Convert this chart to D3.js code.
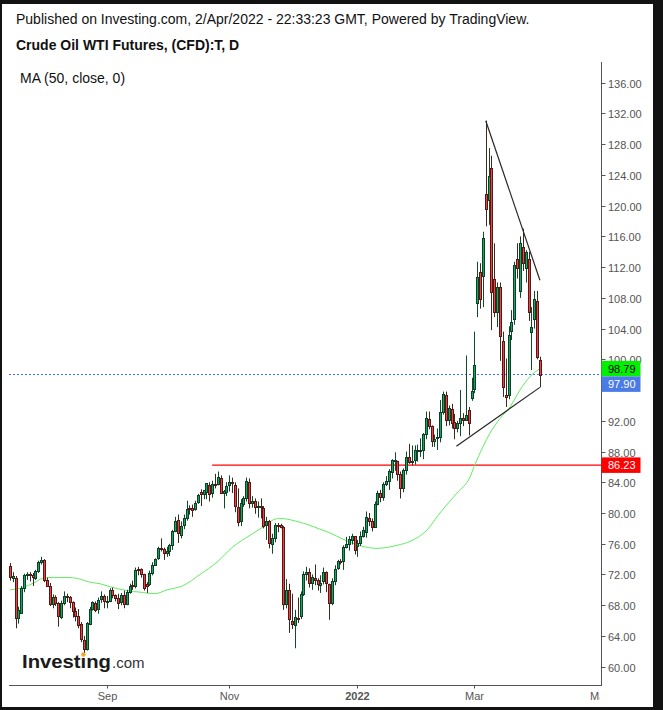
<!DOCTYPE html>
<html><head><meta charset="utf-8">
<script src="https://cdn.jsdelivr.net/npm/d3@7/dist/d3.min.js"></script>
<style>
html,body{margin:0;padding:0;background:#121212;}
svg{display:block;}
text{font-family:"Liberation Sans",Arial,sans-serif;}
</style></head><body>
<svg id="c" width="663" height="710"></svg>
<script>
// ---- data (daily bars, every weekday from 15 Jul 2021 to 1 Apr 2022) ----
const opens = [73.1,71.6,71.6,66.4,67.0,70.3,71.9,72.0,71.9,71.6,
72.4,73.6,73.9,71.3,70.5,68.2,69.1,68.3,66.5,68.3,
69.2,69.1,68.4,67.3,66.6,65.5,63.5,62.3,65.6,67.5,
68.3,67.5,68.8,69.2,68.5,68.6,70.0,69.3,68.9,68.4,
69.3,68.1,69.7,70.6,70.5,72.7,72.7,72.0,70.8,70.8,
72.2,73.3,74.1,75.5,75.3,74.8,75.1,75.9,77.7,79.1,
77.2,78.4,79.4,80.7,80.6,80.5,81.4,82.7,82.5,82.8,
83.7,82.6,83.8,83.8,84.6,82.6,82.8,83.6,84.0,83.6,
80.8,79.0,81.2,81.9,84.0,81.3,81.6,80.8,80.9,80.6,
78.4,78.9,76.0,76.8,78.5,78.4,78.2,68.2,70.0,66.0,
65.4,66.3,66.6,69.5,72.1,72.3,70.9,71.6,71.3,70.6,
71.1,72.3,70.7,68.3,71.1,72.8,73.8,73.7,75.6,76.0,
76.5,77.0,75.7,76.1,77.0,77.5,79.4,78.9,78.2,81.2,
82.6,82.1,83.8,84.2,85.3,86.9,86.8,85.1,83.2,85.6,
87.3,86.6,86.9,88.2,88.2,88.2,90.3,92.3,91.3,89.4,
89.7,89.9,93.1,95.4,92.1,93.6,91.8,91.1,91.7,92.4,
92.1,93.4,95.0,96.2,107.3,111.4,110.8,121.5,120.8,124.85,
110.5,106.1,109.45,102.4,95.35,95.4,103.7,105.2,113.0,108.9,
114.6,111.85,113.0,103.5,105.3,107.6,99.9];
const highs = [73.5,72.3,71.8,67.8,70.5,72.1,72.3,72.3,72.2,72.6,
73.8,74.3,74.0,71.6,70.9,69.4,69.3,68.4,68.6,69.8,
69.5,69.2,68.5,67.7,67.5,65.8,64.0,65.8,67.8,68.5,
68.5,69.0,69.8,69.4,69.2,70.2,70.3,69.4,69.5,69.6,
69.9,70.0,70.8,71.2,72.9,73.0,72.8,72.1,71.0,72.5,
73.6,74.1,75.6,76.7,75.5,75.6,76.0,77.8,79.5,79.8,
78.9,79.8,81.6,81.0,81.1,81.6,82.5,83.1,83.0,83.9,
84.0,84.2,85.1,85.4,84.9,83.0,84.0,84.9,84.6,84.0,
83.2,81.8,82.2,84.6,84.5,82.2,81.9,81.5,81.9,80.9,
79.5,79.1,77.3,78.7,78.7,78.6,78.3,71.4,70.8,69.5,
67.4,69.0,69.8,72.4,73.0,72.8,72.0,73.3,71.5,71.9,
72.9,72.4,70.8,71.5,73.2,73.9,74.0,75.8,76.9,77.0,
77.3,77.0,76.5,77.6,78.2,80.2,80.0,79.3,81.5,82.9,
83.0,84.0,84.8,85.7,87.0,87.9,86.8,85.4,85.8,88.0,
89.0,88.8,88.8,88.9,89.7,90.4,93.2,93.2,91.4,90.2,
91.0,94.7,95.8,95.8,94.0,94.2,92.9,92.0,96.0,93.0,
100.5,93.8,97.6,103.6,112.7,112.5,116.6,131.05,127.5,126.5,
115.1,110.0,110.0,103.6,100.1,104.3,106.4,112.7,115.1,116.0,
117.0,114.2,114.0,106.8,108.9,108.9,100.35];
const lows = [71.2,71.0,65.0,65.6,66.9,69.7,71.3,71.1,70.5,71.3,
72.2,73.3,71.0,70.4,67.9,67.6,67.9,65.2,66.2,68.0,
68.4,67.6,66.4,65.9,65.0,63.2,61.7,62.1,65.4,67.3,
67.1,66.9,68.3,67.6,67.6,68.4,68.9,68.5,67.5,68.0,
67.6,68.0,69.5,70.0,70.2,71.9,71.6,69.9,69.6,70.5,
71.9,73.1,73.9,75.0,73.9,74.3,74.4,75.2,77.5,76.1,
76.7,77.9,79.0,79.8,79.5,80.3,81.2,80.9,81.8,81.8,
81.5,82.0,83.2,83.6,82.5,80.6,82.2,82.8,82.6,80.1,
78.25,78.3,80.8,81.5,80.6,80.7,79.9,79.4,79.3,78.0,
76.5,75.4,74.7,76.2,77.5,78.0,67.4,67.6,64.4,64.9,
62.4,65.7,66.2,69.2,71.2,70.3,70.0,70.6,69.9,69.6,
70.7,69.7,66.1,68.0,70.6,72.6,73.3,72.6,75.4,75.1,
75.9,74.6,74.3,75.7,76.8,76.8,78.3,77.6,78.1,81.0,
81.4,81.6,83.5,83.0,84.5,85.5,84.2,81.9,82.7,85.0,
86.4,86.2,86.3,86.7,87.3,87.0,89.6,90.9,88.6,88.6,
88.2,89.2,92.8,91.3,91.4,91.0,89.6,90.5,90.0,91.3,
92.1,90.1,94.6,95.6,105.5,106.6,106.8,117.3,117.5,103.8,
105.5,104.2,99.8,95.1,93.8,94.8,102.5,104.5,110.5,108.0,
111.5,110.0,105.0,98.6,104.0,100.0,96.35];
const closes = [71.65,71.8,66.4,67.4,70.3,71.9,72.07,71.9,71.65,72.4,
73.6,73.95,71.26,70.56,68.15,69.09,68.28,66.6,68.29,69.25,
69.09,68.44,67.29,66.59,65.46,63.6,62.32,65.64,67.54,68.36,
67.42,68.74,69.21,68.5,68.59,69.99,69.29,68.9,68.35,69.3,
68.14,69.72,70.45,70.46,72.61,72.61,72.0,70.29,70.5,72.23,
73.3,73.98,75.45,75.29,74.83,75.03,75.88,77.62,78.93,77.43,
78.3,79.35,80.52,80.5,80.44,81.31,82.28,82.44,82.96,83.87,
82.5,83.76,83.76,84.65,82.66,82.81,83.57,84.05,83.91,80.86,
78.81,81.27,81.93,84.15,81.34,81.59,80.79,80.88,80.76,78.36,
79.01,76.1,76.75,78.5,78.39,78.2,68.15,69.95,66.18,65.57,
66.5,66.26,69.49,72.05,72.36,70.94,71.67,71.29,70.73,70.87,
72.38,70.86,68.23,71.12,72.76,73.79,73.6,75.57,75.98,76.56,
76.99,75.21,76.08,76.99,77.85,79.46,78.9,78.23,81.22,82.64,
82.12,83.82,84.2,85.43,86.96,86.9,85.14,83.31,85.6,87.35,
86.61,86.82,88.15,88.2,88.26,90.27,92.31,91.32,89.36,89.66,
89.88,93.1,95.46,92.07,93.66,91.76,91.07,91.7,92.35,92.1,
92.81,91.7,95.9,99.2,110.75,107.8,115.75,119.5,123.9,108.8,
106.1,109.45,103.1,96.4,95.1,103.15,104.8,112.3,111.85,115.1,
112.5,114.0,106.1,104.25,107.9,100.35,97.9];

// MA(50): bar position -> value
const maIdx = [0,3.6,8.1,11.6,14.1,21.1,24.6,28.1,31.6,35.2,41.1,45.7,50.9,55.2,60.8,66.7,72.7,78.3,84.3,88.9,92.4,94.8,97.3,100.8,105.3,108.8,112.4,116.9,122.9,128.8,135.9,140.4,146.4,150.9,156.9,161.5,163.2,166.0,168.5,172.0,175.5,179.0,182.5,186];
const maVal = [70.0,70.2,70.85,71.5,71.6,71.6,71.4,71.0,70.8,70.4,69.9,69.7,69.5,70.0,70.55,72.0,73.6,75.6,77.1,78.2,79.1,79.3,79.2,78.9,78.4,77.9,77.4,76.6,75.75,75.4,75.8,76.3,77.8,80.0,82.6,84.7,86.3,88.6,90.4,92.3,93.8,96.0,97.75,98.79];

const yTicks = [60,64,68,72,76,80,84,88,92,96,100,104,108,112,116,120,124,128,132,136];
const xTickLabels = ["Sep","Nov","2022","Mar","May"];
const xTickIdx = [34,77,122,163,207];
const resistance = 86.23, resistanceStart = 71;
const lastPrice = 97.90;
const maLast = 98.79;
const upperTrend = [[167,131.05],[186,110.3]];
const lowerTrend = [[156.7,88.7],[186,96.35]];

// ---- layout ----
const svg = d3.select("#c");
const plotL = 9, plotR = 601.5, axisY = 685.5;
const x = d3.scaleLinear().domain([0,207]).range([9.8, 9.8+207*2.85]);
const y = d3.scaleLinear().domain([60,136]).range([666.7, 82.7]);

svg.append("rect").attr("x",2).attr("y",4).attr("width",651).attr("height",703).attr("fill","#fff");

// header texts
svg.append("text").attr("x",16).attr("y",24).attr("font-size",14).attr("fill","#111")
  .text("Published on Investing.com, 2/Apr/2022 - 22:33:23 GMT, Powered by TradingView.");
svg.append("text").attr("x",16).attr("y",49.5).attr("font-size",14).attr("font-weight","bold").attr("fill","#111")
  .text("Crude Oil WTI Futures, (CFD):T, D");
svg.append("text").attr("x",20).attr("y",82.5).attr("font-size",14).attr("fill","#111")
  .text("MA (50, close, 0)");

// axes
svg.append("line").attr("x1",plotR).attr("x2",plotR).attr("y1",62).attr("y2",axisY+0.5).attr("stroke","#555");
svg.append("line").attr("x1",plotL).attr("x2",plotR).attr("y1",axisY).attr("y2",axisY).attr("stroke","#555");

// price boxes geometry (labels hidden under them are clipped away)
const maY = y(maLast);
const lastY = Math.max(y(lastPrice), maY+15.5);
const boxes = [[maY, maLast, "#00f000", "#000"], [lastY, lastPrice, "#4a7be6", "#fff"], [y(resistance), resistance, "#ff0000", "#fff"]];

const yg = svg.append("g");
yTicks.forEach(v=>{
  const yy = Math.round(y(v))+0.5;
  yg.append("line").attr("x1",plotR).attr("x2",plotR+4).attr("y1",yy).attr("y2",yy).attr("stroke","#555");
  const hidden = boxes.some(b => Math.abs(b[0]-yy) < 9);
  if (!hidden) yg.append("text").attr("x",608).attr("y",yy+4).attr("font-size",11).attr("fill","#555").text(v.toFixed(2));
});

svg.append("clipPath").attr("id","xclip").append("rect").attr("x",0).attr("y",0).attr("width",599.8).attr("height",710);
const xg = svg.append("g").attr("clip-path","url(#xclip)");
xTickLabels.forEach((lab,k)=>{
  const xx = Math.round(x(xTickIdx[k]))+0.5;
  xg.append("line").attr("x1",xx).attr("x2",xx).attr("y1",axisY).attr("y2",axisY+3).attr("stroke","#555");
  xg.append("text").attr("x",xx).attr("y",700).attr("text-anchor","middle").attr("font-size",11)
    .attr("font-weight", lab==="2022"?"bold":"normal").attr("fill","#555").text(lab);
});

// resistance line
svg.append("line").attr("x1",x(resistanceStart)).attr("x2",plotR).attr("y1",y(resistance)).attr("y2",y(resistance))
  .attr("stroke","#ff0000").attr("stroke-width",1.3);

// last price dotted line
svg.append("line").attr("x1",plotL).attr("x2",plotR).attr("y1",Math.round(y(lastPrice))-0.5).attr("y2",Math.round(y(lastPrice))-0.5)
  .attr("stroke","#3d6ef0").attr("stroke-dasharray","2,2");

// MA line
const maPts = maIdx.map((d,k)=>[d,maVal[k]]);
svg.append("path").attr("d", d3.line().x(d=>x(d[0])).y(d=>y(d[1])).curve(d3.curveMonotoneX)(maPts))
  .attr("fill","none").attr("stroke","#62ee62").attr("stroke-width",1);

// candles
const cg = svg.append("g");
closes.forEach((c,i)=>{
  const o = opens[i], h = highs[i], l = lows[i];
  const up = c >= o;
  const cx = Math.round(x(i));
  cg.append("line").attr("x1",cx+0.5).attr("x2",cx+0.5).attr("y1",y(h)).attr("y2",y(l))
    .attr("stroke", up?"#0f4a2c":"#3c2a1c").attr("stroke-width",1);
  const top = Math.round(y(Math.max(o,c)))+0.5;
  const bot = Math.max(top+1, Math.round(y(Math.min(o,c)))+0.5);
  cg.append("rect").attr("x",cx-0.5).attr("y",top).attr("width",2).attr("height",bot-top)
    .attr("fill", up?"#12a862":"#e8453e").attr("stroke", up?"#0d3f25":"#5a1616").attr("stroke-width",1);
});

// trend lines
[upperTrend, lowerTrend].forEach(t=>{
  svg.append("line").attr("x1",x(t[0][0])).attr("y1",y(t[0][1])).attr("x2",x(t[1][0])).attr("y2",y(t[1][1]))
    .attr("stroke","#262626").attr("stroke-width",1.2);
});

// price labels on axis
boxes.forEach(b=>{
  svg.append("rect").attr("x",plotR).attr("y",b[0]-7.75).attr("width",39).attr("height",15.5).attr("fill",b[2]);
  svg.append("text").attr("x",608).attr("y",b[0]+4).attr("font-size",11).attr("fill",b[3]).text(b[1].toFixed(2));
});

// logo
const logo = svg.append("g");
logo.append("text").attr("x",22).attr("y",668).attr("font-size",19).attr("font-weight","bold")
  .attr("fill","#1a1a1a").attr("textLength",89).attr("lengthAdjust","spacingAndGlyphs").text("Invest\u0131ng");
logo.append("text").attr("x",112).attr("y",668).attr("font-size",15).attr("fill","#333").text(".com");
const tmp = svg.append("text").attr("font-size",19).attr("font-weight","bold").text("Investing");
const full = tmp.node().getComputedTextLength();
const pre = tmp.node().getSubStringLength(0,6);
const iw = tmp.node().getSubStringLength(6,1);
tmp.remove();
logo.append("circle").attr("cx",22 + 89*(pre+iw/2)/full).attr("cy",654.5).attr("r",2.3).attr("fill","#f5a623");
</script>
</body></html>
